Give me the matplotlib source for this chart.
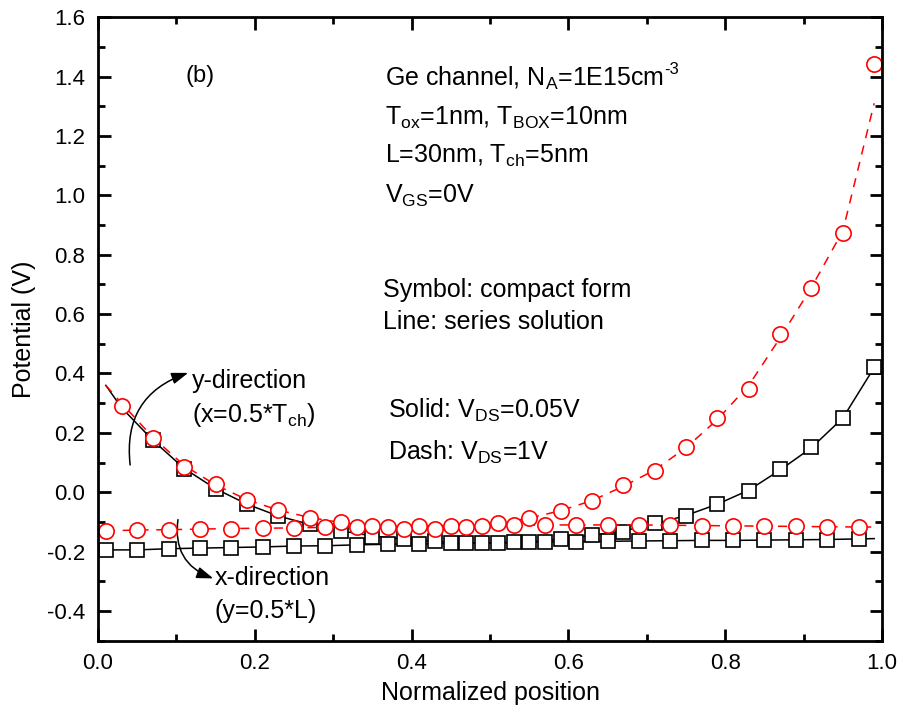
import matplotlib.pyplot as plt
from matplotlib.ticker import MultipleLocator
from matplotlib.patches import FancyArrowPatch

plt.rcParams['font.family'] = ['Liberation Sans', 'DejaVu Sans']
plt.rcParams['mathtext.default'] = 'regular'

# compact form, y-direction (markers)
ydir_x = [0.03, 0.07, 0.11, 0.15, 0.19, 0.23, 0.27, 0.31, 0.35, 0.39, 0.43, 0.47, 0.51,
          0.55, 0.59, 0.63, 0.67, 0.71, 0.75, 0.79, 0.83, 0.87, 0.91, 0.95, 0.99]
ydir_sq_x = ydir_x[1:]
ydir_sq = [0.176, 0.077, 0.010, -0.039, -0.080, -0.106, -0.130, -0.150, -0.158, -0.164,
           -0.172, -0.172, -0.166, -0.158, -0.144, -0.133, -0.104, -0.079, -0.039, 0.005,
           0.077, 0.152, 0.249, 0.423]
ydir_ci = [0.292, 0.182, 0.084, 0.027, -0.026, -0.060, -0.086, -0.100, -0.113, -0.122,
           -0.124, -0.118, -0.104, -0.085, -0.062, -0.028, 0.025, 0.073, 0.152, 0.249,
           0.348, 0.533, 0.687, 0.872, 1.441]

# series solution, y-direction (lines)
ydir_line_x = [0.01] + ydir_x
ydir_solid = [0.36, 0.285, 0.175, 0.080, 0.012, -0.040, -0.080, -0.108, -0.130, -0.147,
              -0.158, -0.166, -0.170, -0.171, -0.167, -0.158, -0.145, -0.130, -0.107,
              -0.078, -0.040, 0.007, 0.075, 0.150, 0.250, 0.420]
ydir_dash = [0.36, 0.300, 0.185, 0.090, 0.025, -0.025, -0.060, -0.085, -0.102, -0.113,
             -0.119, -0.120, -0.115, -0.104, -0.087, -0.062, -0.028, 0.020, 0.075, 0.150,
             0.245, 0.360, 0.520, 0.690, 0.880, 1.310]

# compact form, x-direction (markers)
xdir_x = [0.01, 0.05, 0.09, 0.13, 0.17, 0.21, 0.25, 0.29, 0.33, 0.37, 0.41, 0.45, 0.49,
          0.53, 0.57, 0.61, 0.65, 0.69, 0.73, 0.77, 0.81, 0.85, 0.89, 0.93, 0.97]
xdir_sq = [-0.194, -0.194, -0.190, -0.188, -0.186, -0.184, -0.181, -0.180, -0.177, -0.175,
           -0.174, -0.172, -0.170, -0.169, -0.167, -0.166, -0.165, -0.164, -0.163, -0.162,
           -0.162, -0.161, -0.160, -0.159, -0.157]
xdir_ci = [-0.130, -0.127, -0.126, -0.124, -0.122, -0.121, -0.120, -0.118, -0.117, -0.116,
           -0.114, -0.113, -0.112, -0.111, -0.110, -0.110, -0.110, -0.110, -0.111, -0.112,
           -0.113, -0.114, -0.115, -0.116, -0.117]

# series solution, x-direction (lines)
xdir_line_x = xdir_x + [0.99]
xdir_solid = xdir_sq + [-0.156]
xdir_dash = xdir_ci + [-0.117]

fig = plt.figure(figsize=(9.04, 7.22), dpi=100)
ax = fig.add_axes([0.1084, 0.1125, 0.8673, 0.8638])

blk = dict(color='black', lw=1.1)
red = dict(color='red', lw=1.1, dashes=(6, 5))
sq = dict(ls='none', marker='s', ms=10, mfc='white', mec='black', mew=1.2)
ci = dict(ls='none', marker='o', ms=11, mfc='white', mec='red', mew=1.2)

ax.plot(xdir_line_x, xdir_solid, **blk)
ax.plot(ydir_line_x, ydir_solid, **blk)
ax.plot(xdir_x, xdir_sq, **sq)
ax.plot(ydir_sq_x, ydir_sq, **sq)
ax.plot(xdir_line_x, xdir_dash, **red)
ax.plot(ydir_line_x, ydir_dash, **red)
ax.plot(xdir_x, xdir_ci, **ci)
ax.plot(ydir_x, ydir_ci, **ci)

ax.set_xlim(0, 1.0)
ax.set_ylim(-0.5, 1.6)
ax.xaxis.set_major_locator(MultipleLocator(0.2))
ax.xaxis.set_minor_locator(MultipleLocator(0.1))
ax.yaxis.set_major_locator(MultipleLocator(0.2))
ax.yaxis.set_minor_locator(MultipleLocator(0.1))
ax.xaxis.set_major_formatter(lambda v, p: f'{v:.1f}')
ax.yaxis.set_major_formatter(lambda v, p: f'{v:.1f}')
ax.tick_params(which='both', direction='in', top=True, right=True, width=2, labelsize=16)
ax.tick_params(which='major', length=9, pad=9)
ax.tick_params(which='minor', length=5)
for s in ax.spines.values():
    s.set_linewidth(2)

ax.set_xlabel('Normalized position', fontsize=18, labelpad=5)
ax.set_ylabel('Potential (V)', fontsize=18, labelpad=8)

fs = 18
ax.text(0.111, 1.38, '(b)', fontsize=17)
ge = ax.text(0.366, 1.370, r'Ge channel, N$_{A}$=1E15cm', fontsize=fs)
ax.annotate('-3', xy=(1, 1), xycoords=ge, xytext=(0.5, 1.5), textcoords='offset points',
            fontsize=12, va='top')
ax.text(0.366, 1.236, r'T$_{ox}$=1nm, T$_{BOX}$=10nm', fontsize=fs)
ax.text(0.366, 1.108, r'L=30nm, T$_{ch}$=5nm', fontsize=fs)
ax.text(0.366, 0.974, r'V$_{GS}$=0V', fontsize=fs)
ax.text(0.363, 0.658, 'Symbol: compact form', fontsize=fs)
ax.text(0.363, 0.550, 'Line: series solution', fontsize=fs)
ax.text(0.370, 0.250, r'Solid: V$_{DS}$=0.05V', fontsize=fs)
ax.text(0.370, 0.109, r'Dash: V$_{DS}$=1V', fontsize=fs)
ax.text(0.120, 0.351, 'y-direction', fontsize=fs)
ax.text(0.120, 0.237, r'(x=0.5*T$_{ch}$)', fontsize=fs)
ax.text(0.149, -0.312, 'x-direction', fontsize=fs)
ax.text(0.149, -0.423, '(y=0.5*L)', fontsize=fs)

ax.add_patch(FancyArrowPatch((0.041, 0.092), (0.115, 0.402),
                             connectionstyle='arc3,rad=-0.4', arrowstyle='-|>,head_length=10,head_width=3.5',
                             color='black', lw=1.1, shrinkA=0, shrinkB=0))
ax.add_patch(FancyArrowPatch((0.102, -0.092), (0.147, -0.290),
                             connectionstyle='arc3,rad=0.4', arrowstyle='-|>,head_length=10,head_width=3.5',
                             color='black', lw=1.1, shrinkA=0, shrinkB=0))

fig.savefig('out.png', dpi=100)
